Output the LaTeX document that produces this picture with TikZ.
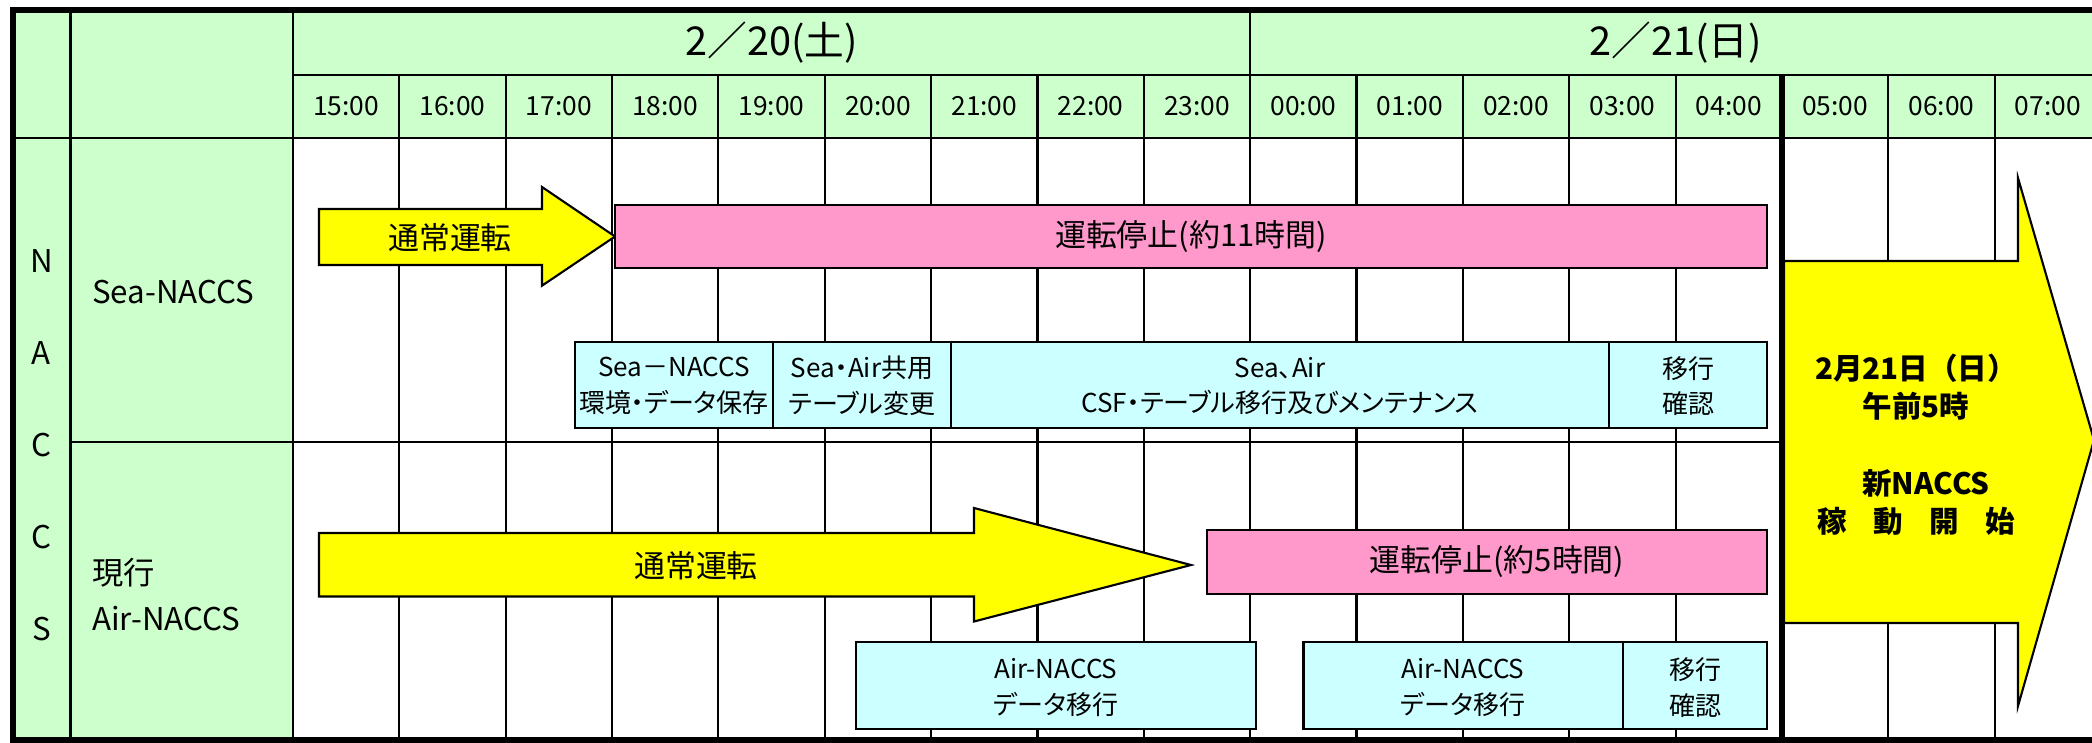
\documentclass[tikz,border=0pt]{standalone}
\usepackage{fontspec}
\setmainfont{Noto Sans CJK JP}
\newfontfamily\pjp{Noto Sans CJK JP}[RawFeature=+palt]
\definecolor{hdrgreen}{HTML}{CCFFCC}
\definecolor{arryellow}{HTML}{FFFF00}
\definecolor{stoppink}{HTML}{FF99CC}
\definecolor{taskcyan}{HTML}{CCFFFF}
\begin{document}
\begin{tikzpicture}[x=0.01cm,y=-0.01cm,
  gridline/.style={line width=0.6pt},
  medline/.style={line width=0.85pt},
  borderline/.style={line width=1.7pt},
  boxline/.style={draw=black,line width=0.6pt},
  datefont/.style={inner sep=0pt,font=\fontsize{11.3pt}{12pt}\selectfont},
  hourfont/.style={inner sep=0pt,font=\fontsize{7.5pt}{8pt}\selectfont},
  lblfont/.style={inner sep=0pt,font=\fontsize{8.9pt}{10pt}\selectfont},
  barfont/.style={inner sep=0pt,font=\fontsize{8.8pt}{10pt}\selectfont},
  taskfont/.style={inner sep=0pt,align=center,font=\pjp\fontsize{7.4pt}{10.1pt}\selectfont},
  bigfont/.style={inner sep=0pt,font=\bfseries\fontsize{8.4pt}{10pt}\selectfont}
]
\useasboundingbox (0,0) rectangle (2092,743);
\clip (0,0) rectangle (2092,743);
\fill[white] (0,0) rectangle (2092,743);
% green header and label areas
\fill[hdrgreen] (13,10) rectangle (2110,138);
\fill[hdrgreen] (13,138) rectangle (293,740);
% grid
\draw[gridline] (70.5,10) -- (70.5,740);
\draw[gridline] (293,10) -- (293,740);
\foreach \i in {1,...,16} {
  \pgfmathsetmacro\xx{293+106.35*\i}
  \ifnum\i=9
    \draw[gridline] (\xx,10) -- (\xx,740);
  \else
    \draw[gridline] (\xx,75) -- (\xx,740);
  \fi
}
\draw[gridline] (293,75) -- (2110,75);
\draw[medline] (13,138) -- (2110,138);
\draw[gridline] (70.5,442) -- (2110,442);
% header texts
\node[datefont] (d1) at (771.5,43) {2／20(土)};
\node[datefont] (d2) at (1675.5,43) {2／21(日)};
\foreach \t [count=\i from 0] in {15:00,16:00,17:00,18:00,19:00,20:00,21:00,22:00,23:00,00:00,01:00,02:00,03:00,04:00,05:00,06:00,07:00} {
  \node[hourfont] (h\i) at (293+106.35*\i+53.2,106.5) {\t};
}
% left labels
\foreach \c [count=\k from 0] in {N,A,C,C,S} {
  \node[lblfont] (n\k) at (41.5,261+92*\k) {\c};
}
\node[lblfont,anchor=west] (sealbl) at (91.5,292) {Sea-NACCS};
\node[lblfont,anchor=west] (genlbl) at (91.5,572.5) {現行};
\node[lblfont,anchor=west] (airlbl) at (91.5,619) {Air-NACCS};
% Sea row
\filldraw[boxline,fill=arryellow] (319,209) -- (542,209) -- (542,187) -- (615,236.5) -- (542,285.7) -- (542,265) -- (319,265) -- cycle;
\node[barfont] (seanorm) at (450,238) {通常運転};
\filldraw[boxline,fill=stoppink] (615,205) rectangle (1767,268);
\node[barfont] (seastop) at (1191,237) {運転停止(約11時間)};
\filldraw[boxline,fill=taskcyan] (575,342) rectangle (773,428);
\filldraw[boxline,fill=taskcyan] (773,342) rectangle (951,428);
\filldraw[boxline,fill=taskcyan] (951,342) rectangle (1609,428);
\filldraw[boxline,fill=taskcyan] (1609,342) rectangle (1767,428);
\node[taskfont] (t1) at (674,386) {Sea－NACCS\\環境・データ保存};
\node[taskfont] (t2) at (862,386) {Sea・Air共用\\テーブル変更};
\node[taskfont] (t3) at (1280,386) {Sea、Air\\CSF・テーブル移行及びメンテナンス};
\node[taskfont] (t4) at (1688,386) {移行\\確認};
% Air row
\filldraw[boxline,fill=arryellow] (319,533) -- (974,533) -- (974,508) -- (1191,565) -- (974,621.5) -- (974,596.5) -- (319,596.5) -- cycle;
\node[barfont] (airnorm) at (696,566) {通常運転};
\filldraw[boxline,fill=stoppink] (1207,530) rectangle (1767,594);
\node[barfont] (airstop) at (1497,562) {運転停止(約5時間)};
\filldraw[boxline,fill=taskcyan] (856,642) rectangle (1256,729);
\filldraw[boxline,fill=taskcyan] (1303.5,642) rectangle (1623,729);
\filldraw[boxline,fill=taskcyan] (1623,642) rectangle (1767,729);
\node[taskfont] (t5) at (1056,687.5) {Air-NACCS\\データ移行};
\node[taskfont] (t6) at (1463,687.5) {Air-NACCS\\データ移行};
\node[taskfont] (t7) at (1695,687.5) {移行\\確認};
% big arrow
\filldraw[boxline,fill=arryellow] (1784,261) -- (2018,261) -- (2018,178) -- (2094,440) -- (2018,706) -- (2018,623) -- (1784,623) -- cycle;
\node[bigfont] (b1) at (1916,368) {2月21日（日）};
\node[bigfont] (b2) at (1916,406) {午前5時};
\node[bigfont] (b3) at (1926,483) {新NACCS};
\node[bigfont] (b4) at (1916,521.6) {稼\hspace{0.9em}動\hspace{0.9em}開\hspace{0.9em}始};
% thick lines
\draw[borderline] (1781.6,75) -- (1781.6,745);
\draw[borderline] (13,10) rectangle (2110,740);
\end{tikzpicture}
\end{document}
